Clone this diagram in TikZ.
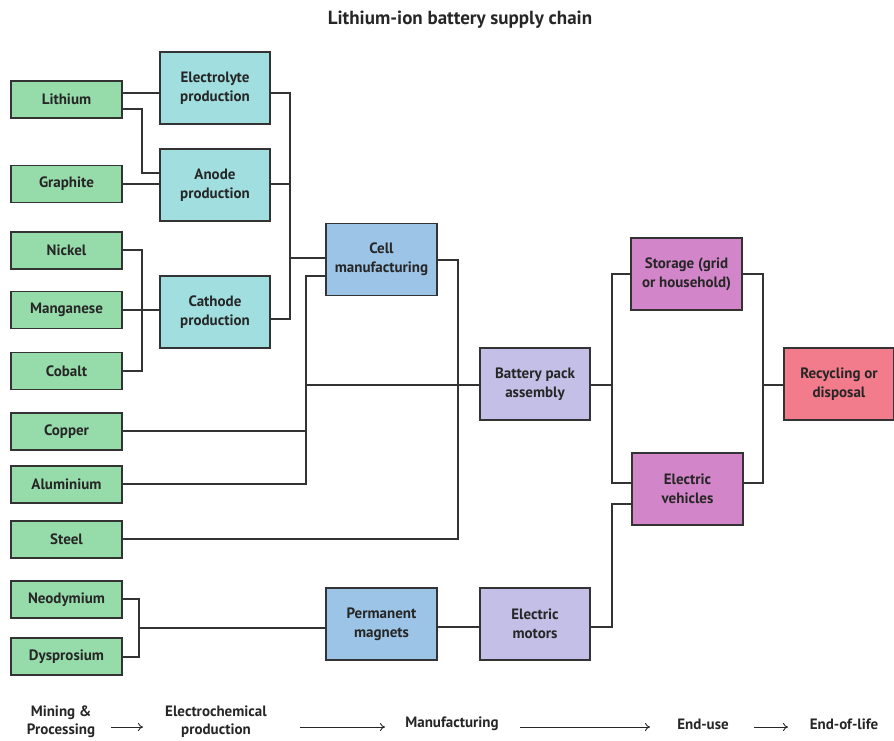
\documentclass[tikz,border=0pt]{standalone}
\usepackage{fontspec}
\setmainfont{PT Sans}
\usetikzlibrary{arrows.meta}
\definecolor{cgreen}{HTML}{96DBAA}
\definecolor{ccyan}{HTML}{A0DEE0}
\definecolor{cblue}{HTML}{9BC4E6}
\definecolor{cpurple}{HTML}{C4BFE6}
\definecolor{cmag}{HTML}{D285C8}
\definecolor{cred}{HTML}{F27B8C}
\definecolor{cline}{HTML}{333333}
\begin{document}
\begin{tikzpicture}[x=1pt,y=-1pt,
  box/.style={draw=cline,line width=1.4pt,inner sep=2pt,align=center,
    font=\fontsize{15}{19}\selectfont\bfseries,text=black!85},
  raw/.style={box,fill=cgreen,minimum width=111pt,minimum height=37pt},
  chem/.style={box,fill=ccyan,minimum width=110pt,minimum height=72pt},
  mfg/.style={box,fill=cblue,minimum width=111pt,minimum height=72pt},
  asm/.style={box,fill=cpurple,minimum width=110pt,minimum height=72pt},
  use/.style={box,fill=cmag,minimum width=111pt,minimum height=72pt},
  eol/.style={box,fill=cred,minimum width=110pt,minimum height=72pt},
  wire/.style={draw=cline,line width=1.3pt},
  leg/.style={align=center,font=\fontsize{15}{18}\selectfont\bfseries,text=black!85},
  legarrow/.style={draw=black!85,line width=0.9pt,-{To[length=5pt,width=8pt]}}]
\useasboundingbox (0,0) rectangle (894,740);
\node[font=\fontsize{19}{22}\selectfont\bfseries,text=black!85] (title) at (460,20) {Lithium-ion battery supply chain};
% raw materials
\node[raw] (lith) at (66.5,99.5) {Lithium};
\node[raw] (graph) at (66.5,184) {Graphite};
\node[raw] (nick) at (66.5,250.5) {Nickel};
\node[raw] (mang) at (66.5,310) {Manganese};
\node[raw] (cob) at (66.5,371) {Cobalt};
\node[raw] (copp) at (66.5,431.5) {Copper};
\node[raw] (alu) at (66.5,484.5) {Aluminium};
\node[raw] (steel) at (66.5,539.5) {Steel};
\node[raw] (neo) at (66.5,599.5) {Neodymium};
\node[raw] (dys) at (66.5,656.5) {Dysprosium};
% electrochemical
\node[chem] (elec) at (215,88) {Electrolyte\\production};
\node[chem] (anode) at (215,185) {Anode\\production};
\node[chem] (cath) at (215,312) {Cathode\\production};
% manufacturing
\node[mfg] (cell) at (381.5,259.5) {Cell\\manufacturing};
\node[mfg] (magn) at (381.5,624) {Permanent\\magnets};
\node[asm] (pack) at (535,384) {Battery pack\\assembly};
\node[asm] (motor) at (535,624) {Electric\\motors};
% end use
\node[use] (stor) at (686.5,274) {Storage (grid\\or household)};
\node[use] (ev) at (687.5,489) {Electric\\vehicles};
\node[eol] (recyc) at (839,384) {Recycling or\\disposal};
% junction coordinates
\coordinate (jA) at (290,93);
\coordinate (jB) at (306,276);
\coordinate (jC) at (458,260);
\coordinate (jD) at (612,274);
\coordinate (jE) at (763,274);
% connectors
\draw[wire] (lith.east |- 0,93) -- (elec.west |- 0,93);
\draw[wire] (lith.east |- 0,109) -- (142,109) -- (142,173) -- (anode.west |- 0,173);
\draw[wire] (graph.east) -- (graph.east -| anode.west);
\draw[wire] (elec.east |- 0,93) -- (jA) -- (290,319) -- (cath.east |- 0,319);
\draw[wire] (anode.east |- 0,184) -- (290,184);
\draw[wire] (290,258) -- (cell.west |- 0,258);
\draw[wire] (nick.east |- 0,250) -- (142,250) -- (142,371) -- (cob.east |- 0,371);
\draw[wire] (mang.east) -- (mang.east -| cath.west);
\draw[wire] (cell.west |- jB) -- (jB) -- (306,484) -- (alu.east |- 0,484);
\draw[wire] (copp.east |- 0,431) -- (306,431);
\draw[wire] (306,385) -- (pack.west |- 0,385);
\draw[wire] (cell.east |- jC) -- (jC) -- (458,539) -- (steel.east |- 0,539);
\draw[wire] (neo.east |- 0,599) -- (139,599) -- (139,657) -- (dys.east |- 0,657);
\draw[wire] (139,628) -- (magn.west |- 0,628);
\draw[wire] (magn.east |- 0,627) -- (motor.west |- 0,627);
\draw[wire] (motor.east |- 0,627) -- (612,627) -- (612,504) -- (ev.west |- 0,504);
\draw[wire] (pack.east |- 0,385) -- (612,385);
\draw[wire] (stor.west |- jD) -- (jD) -- (612,483) -- (ev.west |- 0,483);
\draw[wire] (stor.east |- jE) -- (jE) -- (763,483) -- (ev.east |- 0,483);
\draw[wire] (763,385) -- (recyc.west |- 0,385);
% legend
\node[leg] (l1) at (61,722) {Mining \&\\Processing};
\node[leg] (l2) at (216,722) {Electrochemical\\production};
\node[leg] (l3) at (452,724) {Manufacturing};
\node[leg] (l4) at (703,724) {End-use};
\node[leg] (l5) at (844,724) {End-of-life};
\draw[legarrow] (111,727) coordinate (a1) -- (143,727) coordinate (b1);
\draw[legarrow] (300,727) coordinate (a2) -- (385,727) coordinate (b2);
\draw[legarrow] (520,727) coordinate (a3) -- (650,727) coordinate (b3);
\draw[legarrow] (754,727) coordinate (a4) -- (788,727) coordinate (b4);
\end{tikzpicture}
\end{document}
